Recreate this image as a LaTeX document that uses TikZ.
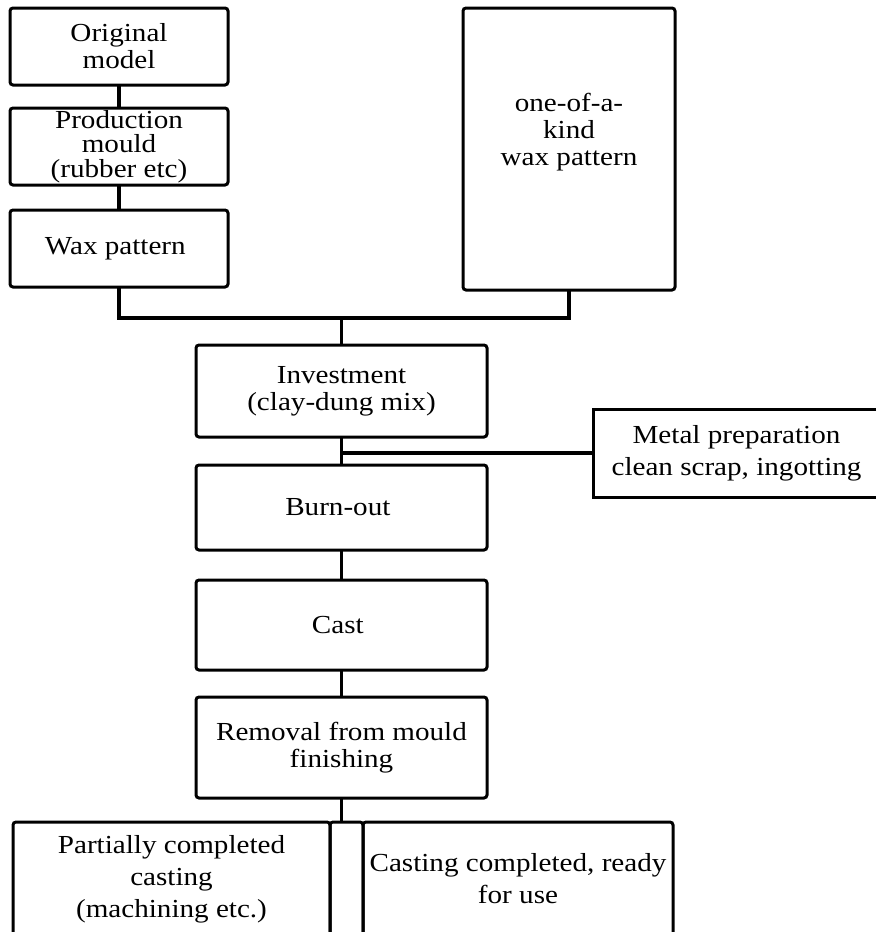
\documentclass[tikz,border=0pt]{standalone}
\usepackage{fontspec}
\setmainfont{Liberation Serif}[FakeStretch=1.12]
\usepackage{tikz}

\begin{document}
\begin{tikzpicture}[x=0.5pt, y=-0.5pt,
    stage/.style={draw, line width=1.5pt, rounded corners=1.5pt, align=center,
        inner sep=0pt, outer sep=0pt, font=\fontsize{13}{13.5}\selectfont},
    link/.style={line width=1.6pt}]
    \useasboundingbox (0,0) rectangle (877,932);

    % Production route
    \node[stage, minimum width=109pt, minimum height=38.5pt] (orig) at (119,46.5) {
        Original \\
        model
    };
    \node[stage, minimum width=109pt, minimum height=38.5pt,
        font=\fontsize{13}{12.2}\selectfont] (mould) at (119,146.5) {
        Production \\
        mould \\
        (rubber etc)
    };
    \node[stage, minimum width=109pt, minimum height=38.5pt] (wax) at (119,248.5) {
        Wax pattern
    };

    % One-of-a-kind route
    \node[stage, minimum width=106pt, minimum height=141pt] (unique) at (569,149) {};
    \node[align=center, inner sep=0pt, font=\fontsize{13}{13.5}\selectfont] (uniquetext) at (569,132) {
        one-of-a- \\
        kind \\
        wax pattern
    };

    % Main line
    \node[stage, minimum width=145.5pt, minimum height=46pt] (invest) at (341.5,391) {
        Investment \\
        (clay-dung mix)
    };
    \node[stage, minimum width=145.5pt, minimum height=42.5pt] (burn) at (341.5,507.5) {
        Burn-out
    };
    \node[stage, minimum width=145.5pt, minimum height=45pt] (cast) at (341.5,625) {
        Cast
    };
    \node[stage, minimum width=145.5pt, minimum height=50.5pt] (removal) at (341.5,747.5) {
        Removal from mould \\
        finishing
    };

    % Metal preparation (runs off the right edge)
    \node[stage, draw=none, minimum width=143.5pt, minimum height=44pt,
        font=\fontsize{13}{16}\selectfont] (metal) at (736.5,453) {
        Metal preparation \\
        clean scrap, ingotting
    };
    \draw[line width=1.5pt] (metal.north west) ++(283,0) -- (metal.north west)
        -- (metal.south west) -- ++(283,0);

    % Results
    \node[stage, minimum width=158.5pt, minimum height=57pt,
        font=\fontsize{13}{16}\selectfont] (partial) at (171.5,879) {
        Partially completed \\
        casting \\
        (machining etc.)
    };
    \node[stage, minimum width=16.5pt, minimum height=57pt] (gap) at (346.5,879) {};
    \node[stage, minimum width=155pt, minimum height=57pt,
        font=\fontsize{13}{16}\selectfont] (done) at (518,879) {
        Casting completed, ready \\
        for use
    };

    % Connectors
    \coordinate (join) at (341.5,318);
    \draw[link] (orig.south) -- (mould.north);
    \draw[link] (mould.south) -- (wax.north);
    \draw[link] (wax.south) |- (join) -| (unique.south);
    \draw[link] (join) -- (invest.north);
    \draw[link] (invest.south) -- (burn.north);
    \draw[link] (invest.south |- metal.west) -- (metal.west);
    \draw[link] (burn.south) -- (cast.north);
    \draw[link] (cast.south) -- (removal.north);
    \draw[link] (removal.south) -- (removal.south |- gap.north);
\end{tikzpicture}
\end{document}
